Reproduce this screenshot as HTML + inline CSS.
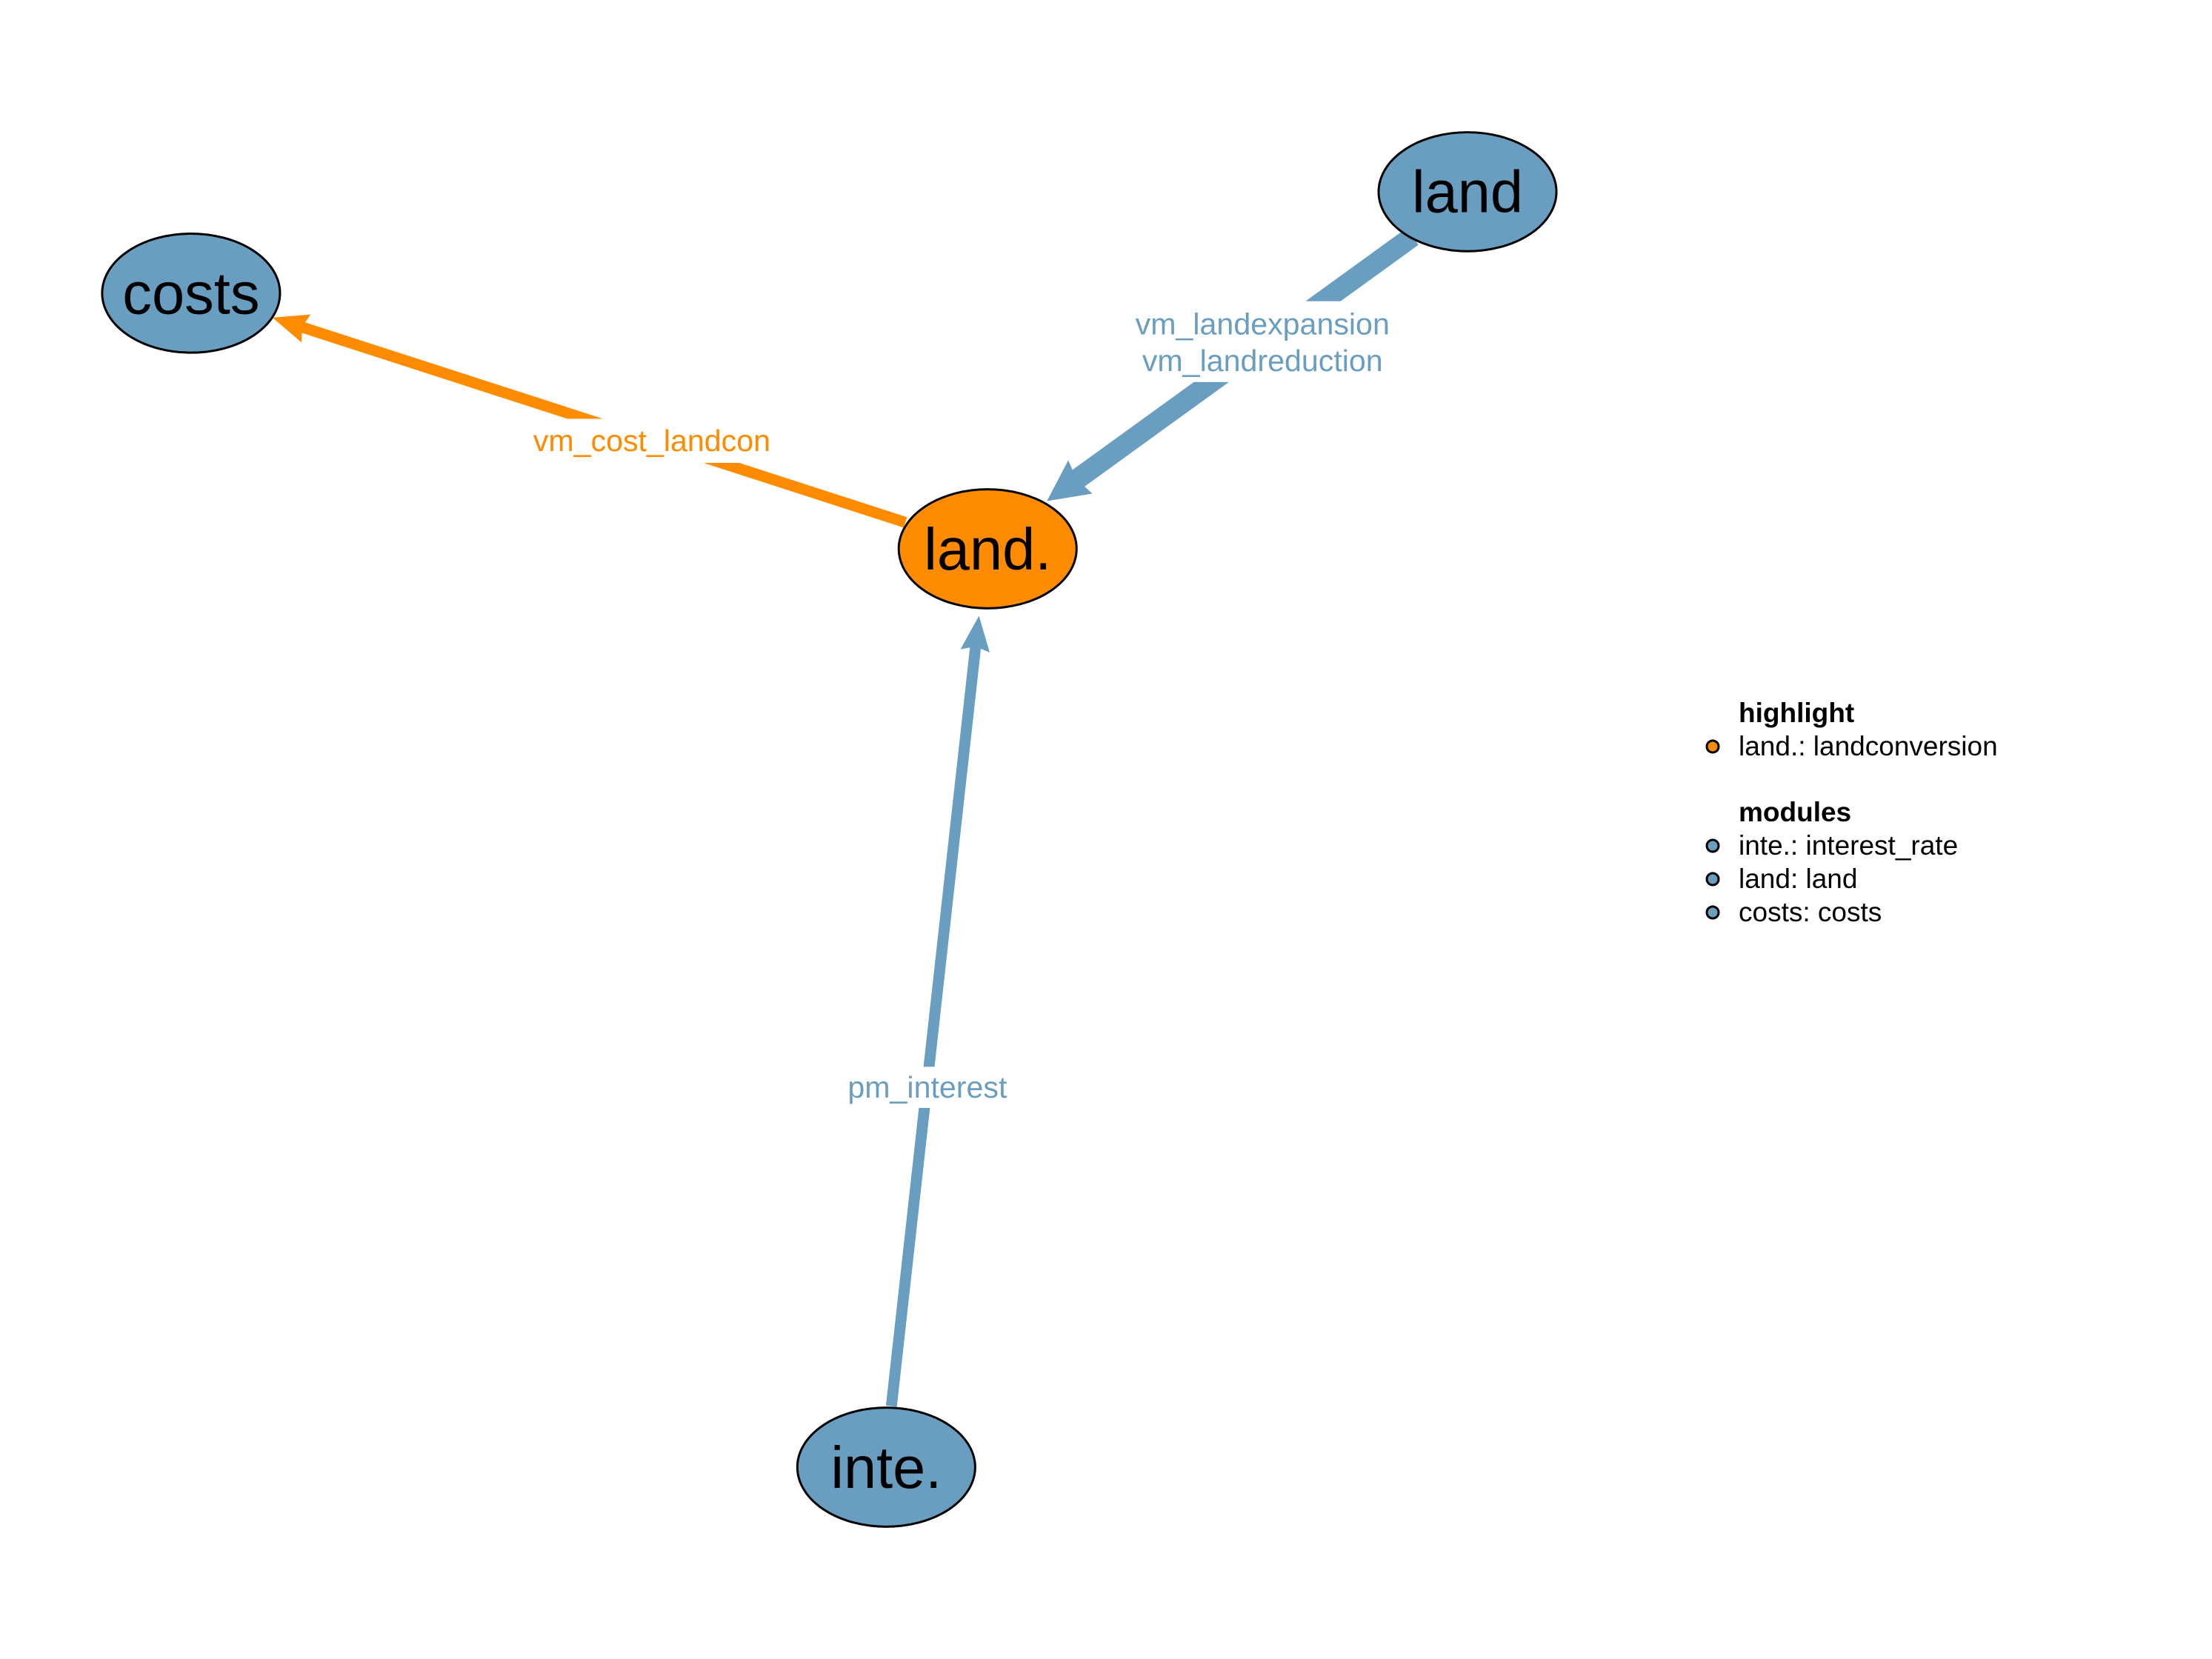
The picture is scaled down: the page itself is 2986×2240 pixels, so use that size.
<!DOCTYPE html>
<html><head><meta charset="utf-8"><style>html,body{margin:0;padding:0;background:#fff}svg{display:block}</style></head>
<body>
<svg width="2986" height="2240" viewBox="0 0 2986 2240" xmlns="http://www.w3.org/2000/svg" font-family="Liberation Sans, Arial, sans-serif">
<defs>
<marker id="ao" markerUnits="userSpaceOnUse" markerWidth="60" markerHeight="60" refX="10" refY="20" orient="auto"><path d="M0,0 L48,20 L0,40 L6,20 Z" fill="#FF8C00"/></marker>
<marker id="ab1" markerUnits="userSpaceOnUse" markerWidth="70" markerHeight="70" refX="10" refY="28" orient="auto"><path d="M0,0 L56,28 L0,56 L6,28 Z" fill="#6A9EC0"/></marker>
<marker id="ab2" markerUnits="userSpaceOnUse" markerWidth="60" markerHeight="60" refX="10" refY="20" orient="auto"><path d="M0,0 L48,20 L0,40 L6,20 Z" fill="#6A9EC0"/></marker>
</defs>
<rect width="2986" height="2240" fill="#fff"/>
<g transform="scale(0.992)">
<line x1="1232" y1="711" x2="407" y2="444" stroke="#FF8C00" stroke-width="15" marker-end="url(#ao)"/>
<line x1="1922" y1="322" x2="1462" y2="655" stroke="#6A9EC0" stroke-width="28" marker-end="url(#ab1)"/>
<line x1="1213" y1="1914" x2="1328" y2="876" stroke="#6A9EC0" stroke-width="15" marker-end="url(#ab2)"/>
<rect x="715" y="570" width="350" height="60" fill="#fff"/>
<text x="887" y="614" font-size="41.5" text-anchor="middle" fill="#FF8C00">vm_cost_landcon</text>
<rect x="1512" y="410" width="412" height="110" fill="#fff"/>
<text x="1718" y="455" font-size="41.5" fill="#6A9EC0" text-anchor="middle">vm_landexpansion</text>
<text x="1718" y="505" font-size="41.5" fill="#6A9EC0" text-anchor="middle">vm_landreduction</text>
<rect x="1130" y="1452" width="262" height="56" fill="#fff"/>
<text x="1262" y="1494" font-size="41.5" fill="#6A9EC0" text-anchor="middle">pm_interest</text>
<ellipse cx="260" cy="399" rx="121" ry="81" fill="#6A9EC0" stroke="#000" stroke-width="3"/>
<text x="260" y="427" font-size="80" text-anchor="middle">costs</text>
<ellipse cx="1997" cy="261" rx="121" ry="81" fill="#6A9EC0" stroke="#000" stroke-width="3"/>
<text x="1997" y="289" font-size="80" text-anchor="middle">land</text>
<ellipse cx="1344" cy="747" rx="121" ry="81" fill="#FF8C00" stroke="#000" stroke-width="3"/>
<text x="1344" y="775" font-size="80" text-anchor="middle">land.</text>
<ellipse cx="1206" cy="1997" rx="121" ry="81" fill="#6A9EC0" stroke="#000" stroke-width="3"/>
<text x="1206" y="2025" font-size="80" text-anchor="middle">inte.</text>
</g>
<g font-size="37">
<text x="2347" y="975" font-weight="bold">highlight</text>
<circle cx="2312" cy="1008" r="8" fill="#FF8C00" stroke="#000" stroke-width="3"/>
<text x="2347" y="1020">land.: landconversion</text>
<text x="2347" y="1109" font-weight="bold">modules</text>
<circle cx="2312" cy="1142" r="8" fill="#6A9EC0" stroke="#000" stroke-width="3"/>
<text x="2347" y="1154">inte.: interest_rate</text>
<circle cx="2312" cy="1187" r="8" fill="#6A9EC0" stroke="#000" stroke-width="3"/>
<text x="2347" y="1199">land: land</text>
<circle cx="2312" cy="1232" r="8" fill="#6A9EC0" stroke="#000" stroke-width="3"/>
<text x="2347" y="1244">costs: costs</text>
</g>
</svg>
</body></html>
